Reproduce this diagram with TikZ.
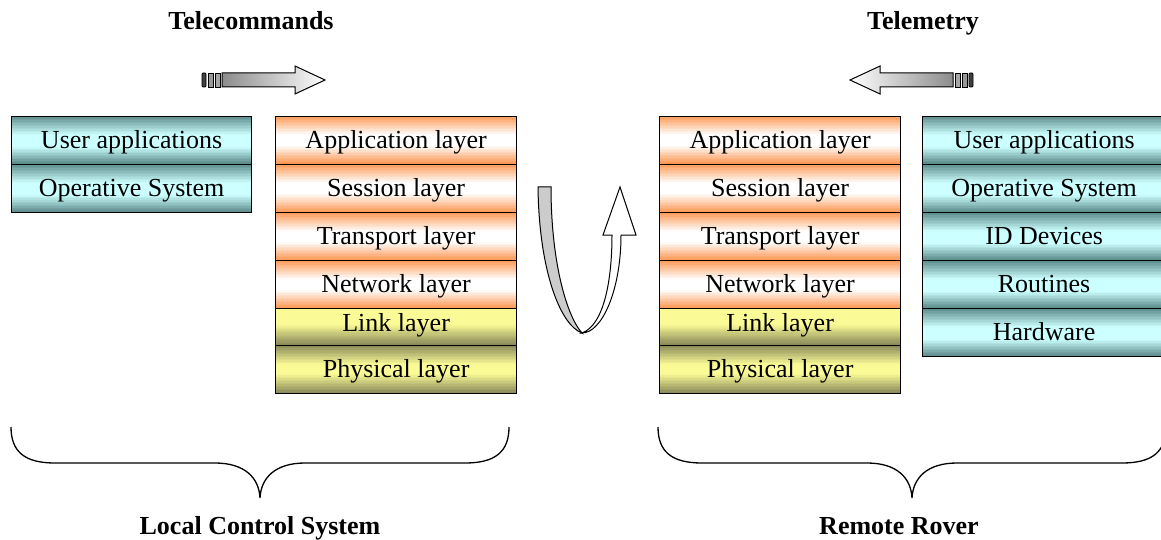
\documentclass[tikz,border=0pt]{standalone}
\usepackage{fontspec}
\setmainfont{Liberation Serif}
\definecolor{cyd}{RGB}{90,136,136}
\definecolor{cyl}{RGB}{204,255,255}
\definecolor{ord}{RGB}{252,150,80}
\definecolor{wht}{RGB}{255,255,255}
\definecolor{yel}{RGB}{250,250,150}
\definecolor{olv}{RGB}{135,135,88}
% x, ytop, width, height, edge colour, middle colour, rise fraction, fall fraction
\newcommand\gradrow[8]{%
  \foreach \i in {1,...,32}{%
    \pgfmathsetmacro\t{(\i-0.5)/32}%
    \pgfmathsetmacro\p{100*min(1,\t/#7,(1-\t)/#8)}%
    \fill[#6!\p!#5] (#1,{-#2-(\i-1)*#4/32}) rectangle ({#1+#3},{-#2-\i*#4/32-0.4});
  }%
}
\begin{document}
\begin{tikzpicture}[x=1pt,y=1pt,
  row/.style={draw=black, line width=1.2pt, anchor=north west, minimum height=48pt, inner sep=0pt, text height=18pt, text depth=2pt, font=\fontsize{26}{30}\selectfont},
  cyanrow/.style={row, minimum width=240pt},
  orow/.style={row, minimum width=241pt},
  lrow/.style={row, minimum width=241pt, minimum height=37pt, text height=14pt, text depth=5pt},
  prow/.style={row, minimum width=241pt},
  rcyan/.style={row, minimum width=243pt},
  title/.style={anchor=base, font=\fontsize{26}{30}\selectfont\bfseries},
  brace/.style={line width=1.3pt},
  arr/.style={draw=black, line width=1pt},
  tailbar/.style={draw=black, line width=0.8pt}
]
\path[use as bounding box] (0,0) rectangle (1161,-540);
\clip (0,0) rectangle (1161,-540);

% titles
\node[title] (tc) at (251,-30) {Telecommands};
\node[title] (tm) at (923,-30) {Telemetry};
\node[title] (lcs) at (260,-534) {Local Control System};
\node[title] (rr) at (899,-534) {Remote Rover};

% gradient fills
\foreach \y in {116,164}{\gradrow{11}{\y}{240}{48}{cyd}{cyl}{0.4}{0.35}}
\foreach \y in {116,164,212,260,308}{\gradrow{922}{\y}{243}{48}{cyd}{cyl}{0.4}{0.35}}
\foreach \x in {275,659}{%
  \foreach \y in {116,164,212,260}{\gradrow{\x}{\y}{241}{48}{ord}{wht}{0.4}{0.38}}
  \gradrow{\x}{308}{241}{37}{olv}{yel}{0.01}{0.55}
  \gradrow{\x}{345}{241}{48}{olv}{yel}{0.4}{0.4}
}

% stack A
\node[cyanrow] (a1) at (11,-116) {User applications};
\node[cyanrow] (a2) at (11,-164) {Operative System};

% stack B
\node[orow] (b1) at (275,-116) {Application layer};
\node[orow] (b2) at (275,-164) {Session layer};
\node[orow] (b3) at (275,-212) {Transport layer};
\node[orow] (b4) at (275,-260) {Network layer};
\node[lrow] (b5) at (275,-308) {Link layer};
\node[prow] (b6) at (275,-345) {Physical layer};

% stack C
\node[orow] (c1) at (659,-116) {Application layer};
\node[orow] (c2) at (659,-164) {Session layer};
\node[orow] (c3) at (659,-212) {Transport layer};
\node[orow] (c4) at (659,-260) {Network layer};
\node[lrow] (c5) at (659,-308) {Link layer};
\node[prow] (c6) at (659,-345) {Physical layer};

% stack D
\node[rcyan] (d1) at (922,-116) {User applications};
\node[rcyan] (d2) at (922,-164) {Operative System};
\node[rcyan] (d3) at (922,-212) {ID Devices};
\node[rcyan] (d4) at (922,-260) {Routines};
\node[rcyan] (d5) at (922,-308) {Hardware};

% telecommands arrow
\draw[tailbar, fill=black!75, rounded corners=1pt] (202,-73) rectangle (206,-87);
\draw[tailbar, fill=gray!80] (208,-73) rectangle (213,-87);
\draw[tailbar, fill=gray!70] (215,-73) rectangle (220,-87);
\draw[arr, left color=gray!90, right color=white] (222,-73) -- (295,-73) -- (295,-66) -- (325,-80) -- (295,-94) -- (295,-87) -- (222,-87) -- cycle;

% telemetry arrow
\draw[tailbar, fill=black!75, rounded corners=1pt] (969,-73) rectangle (973,-87);
\draw[tailbar, fill=gray!80] (962,-73) rectangle (967,-87);
\draw[tailbar, fill=gray!70] (955,-73) rectangle (960,-87);
\draw[arr, left color=white, right color=gray!90] (953,-73) -- (880,-73) -- (880,-66) -- (850,-80) -- (880,-94) -- (880,-87) -- (953,-87) -- cycle;

% U-turn arrow
\draw[arr, fill=black!20] (538,-187) .. controls (539,-270) and (560,-325) .. (582,-333) .. controls (566,-315) and (551,-260) .. (551,-187) -- cycle;
\draw[arr, fill=white] (582,-333) .. controls (604,-325) and (612,-280) .. (612,-235) -- (603,-235) -- (620,-187) -- (636,-235) -- (621,-235) .. controls (621,-290) and (602,-333) .. (582,-333) -- cycle;

% braces
\draw[brace] (11,-427) .. controls (11,-452) and (25,-463) .. (55,-463) -- (215,-463) .. controls (245,-463) and (259,-478) .. (260,-498) .. controls (261,-478) and (275,-463) .. (305,-463) -- (465,-463) .. controls (495,-463) and (509,-452) .. (509,-427);
\draw[brace] (658,-427) .. controls (658,-452) and (672,-463) .. (702,-463) -- (867,-463) .. controls (897,-463) and (911,-478) .. (912,-498) .. controls (913,-478) and (927,-463) .. (957,-463) -- (1122,-463) .. controls (1152,-463) and (1166,-452) .. (1166,-427);
\end{tikzpicture}
\end{document}
